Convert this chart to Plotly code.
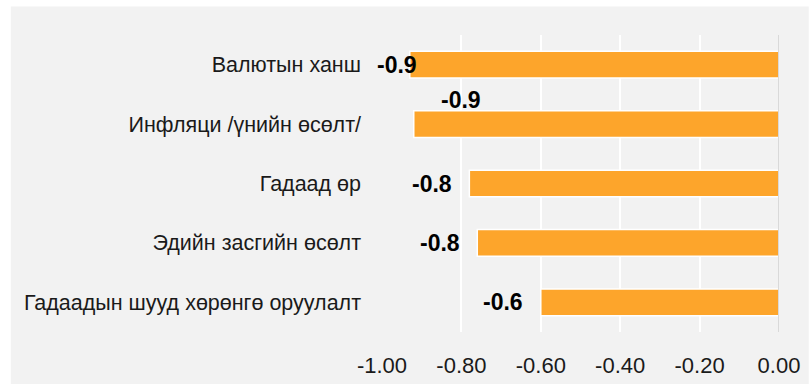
import plotly.graph_objects as go

# Factors (top to bottom) and their estimated effect
factors = [
    "Валютын ханш",
    "Инфляци /үнийн өсөлт/",
    "Гадаад өр",
    "Эдийн засгийн өсөлт",
    "Гадаадын шууд хөрөнгө оруулалт",
]
effects = [-0.93, -0.92, -0.78, -0.76, -0.60]
tick_values = [-1.0, -0.8, -0.6, -0.4, -0.2, 0.0]

# Label offsets (pixels) relative to each bar's left end
label_dx = [-13, 47, -37, -37, -38]
label_dy = [0, 24, 0, 0, 0]

W, H = 812, 390
ML, MR, MT, MB = 382, 30, 35, 53
BG = "#f2f2f2"
BAR = "#FDA52B"
FONT = "Liberation Sans, Arial, sans-serif"

fig = go.Figure(
    go.Bar(
        x=effects,
        y=factors,
        orientation="h",
        width=0.45,
        marker=dict(color=BAR, line=dict(color="white", width=1.5)),
        hoverinfo="skip",
    )
)

for f, v, dx, dy in zip(factors, effects, label_dx, label_dy):
    fig.add_annotation(
        x=v, y=f, xref="x", yref="y",
        text=f"{v:.1f}", showarrow=False,
        xanchor="center", yanchor="middle",
        xshift=dx, yshift=dy,
        font=dict(family=FONT, size=23, color="black", weight="bold"),
    )

# gray panel with a thin white band on the top and left edges
pw = W - ML - MR
ph = H - MT - MB
fig.add_shape(
    type="rect", xref="paper", yref="paper", layer="below",
    x0=(8 - ML) / pw, x1=(W - ML) / pw,
    y0=-MB / ph, y1=(H - 6 - MB) / ph,
    fillcolor=BG, line=dict(width=0),
)

fig.update_layout(
    width=W, height=H,
    margin=dict(l=ML, r=MR, t=MT, b=MB),
    paper_bgcolor="white",
    plot_bgcolor=BG,
    showlegend=False,
    font=dict(family=FONT, color="black"),
)
fig.update_xaxes(
    range=[-1.0, 0.0],
    tickvals=tick_values,
    ticktext=[f"{t:.2f}" for t in tick_values],
    tickfont=dict(size=22, color="#1a1a1a"),
    showgrid=True, gridcolor="white", gridwidth=2,
    zeroline=False,
    showline=False,
    ticks="outside", ticklen=14, tickcolor="rgba(0,0,0,0)",
    fixedrange=True,
)
fig.update_yaxes(
    categoryorder="array",
    categoryarray=factors[::-1],
    tickfont=dict(size=21.5, color="#1a1a1a"),
    showgrid=False,
    zeroline=False,
    ticklabelstandoff=20,
    fixedrange=True,
)
# vertical baseline at zero
fig.add_shape(
    type="line", xref="x", yref="paper",
    x0=0, x1=0, y0=0, y1=1,
    line=dict(color="#d9d9d9", width=2), layer="above",
)

fig.write_html("out.html")
